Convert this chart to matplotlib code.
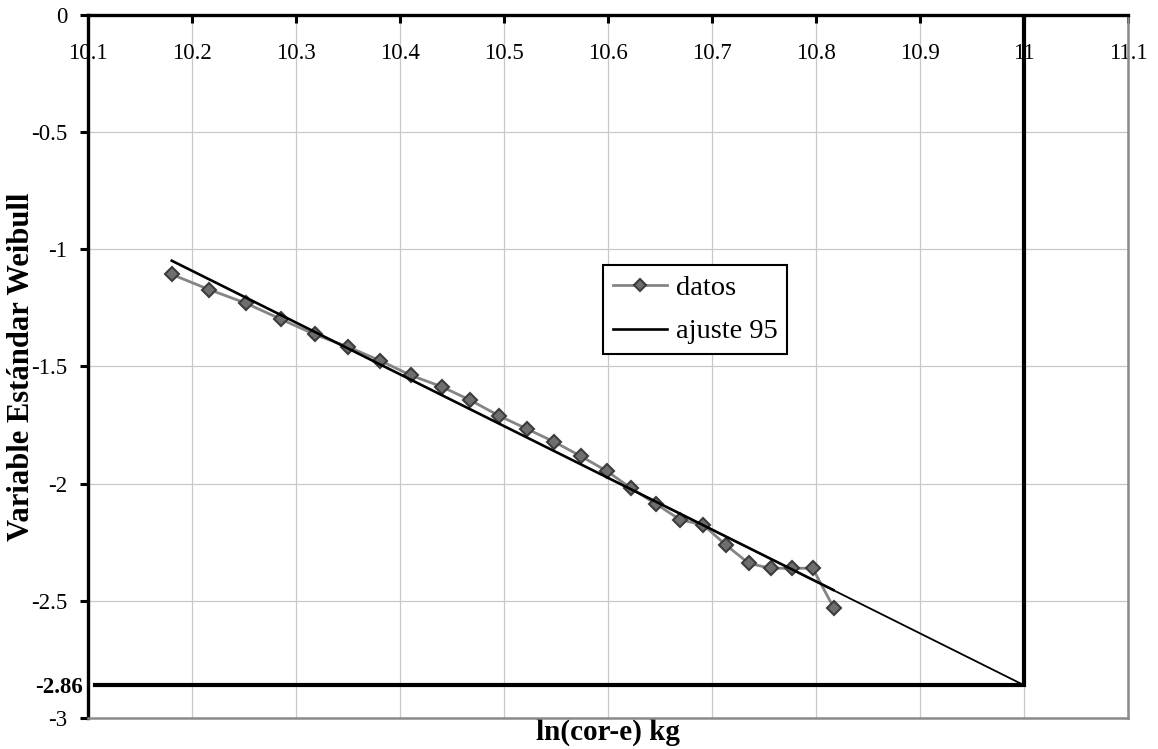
import matplotlib
matplotlib.use("Agg")
import matplotlib.pyplot as plt

plt.rcParams['font.family'] = ['Liberation Serif', 'DejaVu Serif']
plt.rcParams['axes.unicode_minus'] = False

# data
x_datos = [10.1805, 10.2167, 10.2519, 10.2859, 10.3180, 10.3503, 10.3810, 10.4106,
           10.4400, 10.4673, 10.4955, 10.5224, 10.5480, 10.5740, 10.5988, 10.6224,
           10.6462, 10.6695, 10.6916, 10.7135, 10.7353, 10.7564, 10.7772, 10.7968,
           10.8173]
y_datos = [-1.107, -1.172, -1.230, -1.299, -1.363, -1.417, -1.475, -1.538,
           -1.586, -1.643, -1.711, -1.767, -1.821, -1.883, -1.946, -2.020,
           -2.087, -2.154, -2.176, -2.262, -2.340, -2.361, -2.361, -2.361,
           -2.532]

x_ajuste = [10.1805, 10.8167]
y_ajuste = [-1.0485, -2.4538]

x_extension = [10.60, 11.0]
y_extension = [-1.975, -2.86]

x_ref = [10.107, 11.0, 11.0]
y_ref = [-2.86, -2.86, 0.0]

x_ticks = [10.1, 10.2, 10.3, 10.4, 10.5, 10.6, 10.7, 10.8, 10.9, 11.0, 11.1]
x_tick_labels = ['10.1', '10.2', '10.3', '10.4', '10.5', '10.6', '10.7', '10.8', '10.9', '11', '11.1']
y_ticks = [0, -0.5, -1, -1.5, -2, -2.5, -3]
y_tick_labels = ['0', '-0.5', '-1', '-1.5', '-2', '-2.5', '-3']
y_mark = [-2.86]
y_mark_labels = ['-2.86']

W, H = 1158, 749
fig = plt.figure(figsize=(W / 100, H / 100), dpi=100)
ax = fig.add_axes([88 / W, 1 - 718 / H, (1128 - 88) / W, (718 - 15) / H])

ax.set_xlim(10.1, 11.1)
ax.set_ylim(-3, 0)

ax.set_xticks(x_ticks)
ax.set_xticklabels(x_tick_labels)
ax.set_yticks(y_ticks)
ax.set_yticklabels(y_tick_labels)
ax.set_yticks(y_mark, minor=True)
ax.set_yticklabels(y_mark_labels, minor=True, fontweight='bold')

ax.grid(True, which='major', color='#c8c8c8', linewidth=0.9, zorder=0)
ax.set_axisbelow(True)

ax.tick_params(axis='x', which='major', top=True, labeltop=True, bottom=False,
               labelbottom=False, direction='in', length=6, width=2.2,
               labelsize=16.5, pad=-35, color='black')
ax.tick_params(axis='y', which='major', left=True, direction='out', length=6,
               width=2.2, labelsize=16.5, pad=9, color='black')
ax.tick_params(axis='y', which='minor', length=0, labelsize=16.5, pad=4)

for side in ['top', 'left']:
    ax.spines[side].set_color('black')
    ax.spines[side].set_linewidth(2.4)
for side in ['bottom', 'right']:
    ax.spines[side].set_color('#8a8a8a')
    ax.spines[side].set_linewidth(1.8)

ax.plot(x_ref, y_ref, color='black', linewidth=3.0, solid_joinstyle='miter', zorder=3)
ax.plot(x_extension, y_extension, color='black', linewidth=1.3, zorder=3)
ax.plot(x_datos, y_datos, color='#858585', linewidth=2.0, marker='D', markersize=7.5,
        markerfacecolor='#6e6e6e', markeredgecolor='#3c3c3c', markeredgewidth=1.5,
        label='datos', zorder=4)
ax.plot(x_ajuste, y_ajuste, color='black', linewidth=1.9, label='ajuste 95', zorder=5)

leg = ax.legend(loc='upper left', bbox_to_anchor=((603 - 88) / 1040, (718 - 265) / 703),
                borderaxespad=0, fontsize=20.5, frameon=True, fancybox=False,
                edgecolor='black', handlelength=1.9, handletextpad=0.3,
                borderpad=0.35, labelspacing=0.62, numpoints=1, markerscale=0.85)
leg.get_frame().set_linewidth(1.5)
leg.get_frame().set_alpha(1)

ax.set_xlabel('ln(cor-e) kg', fontsize=21, fontweight='bold')
ax.xaxis.set_label_position('bottom')
ax.xaxis.set_label_coords(0.5, -0.021)
ax.xaxis.label.set_va('center')
ax.set_ylabel('Variable Estándar Weibull', fontsize=22, fontweight='bold')
ax.yaxis.set_label_coords((21.5 - 88) / 1040, (718 - 367) / 703)
ax.yaxis.label.set_va('center')

fig.savefig('out.png', dpi=100)
